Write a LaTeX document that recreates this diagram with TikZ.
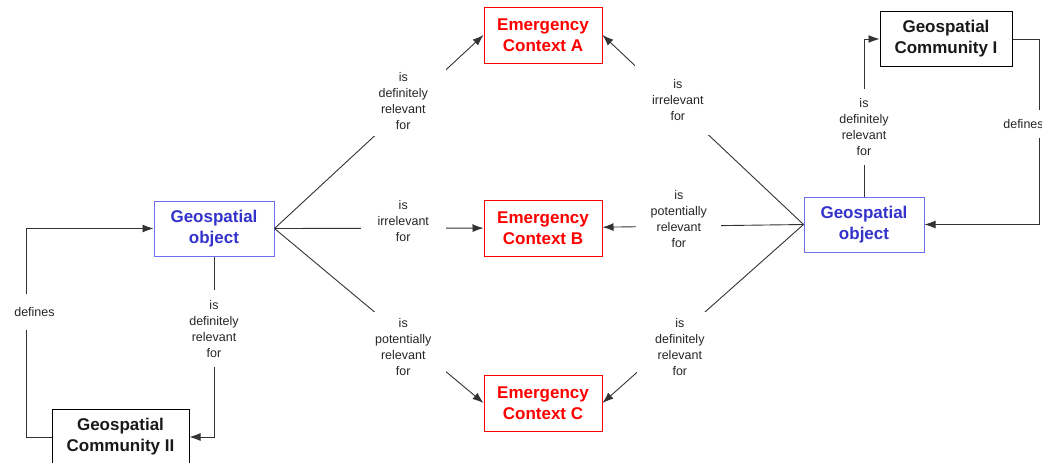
\documentclass[tikz,border=0pt]{standalone}
\usepackage{fontspec}
\setmainfont{Liberation Sans}
\usetikzlibrary{arrows.meta}
\definecolor{ctxred}{RGB}{255,0,0}
\definecolor{objblue}{RGB}{51,51,204}
\definecolor{objframe}{RGB}{110,110,240}
\tikzstyle{box}=[align=center,inner sep=0pt,line width=1pt,font=\fontsize{17}{21}\selectfont\bfseries]
\tikzstyle{context}=[box,draw=ctxred,text=ctxred,minimum width=118pt,minimum height=56pt]
\tikzstyle{object}=[box,draw=objframe,text=objblue,minimum width=120pt,minimum height=55pt]
\tikzstyle{community}=[box,draw=black,text=black!90,minimum height=55pt]
\tikzstyle{edge} = [draw,line width=0.9pt,black!80,-{Latex[length=11pt,width=8pt]}]
\tikzstyle{relation} = [font=\fontsize{12.5}{16}\selectfont,text=black!85,fill=white,align=center,inner sep=0pt,minimum width=85pt,minimum height=70pt]

\begin{document}
\begin{tikzpicture}[x=1pt,y=-1pt]
				\useasboundingbox (0,0) rectangle (1042,463);
				% First we draw the boxes
				\foreach \pos/\name/\letter in {{(543,35)/ctxA/A}, {(543,228)/ctxB/B}, {(543,403)/ctxC/C}}
				\node[context] (\name) at \pos {Emergency\\Context \letter};

				\node[object] (lobj) at (214,228.5) {Geospatial\\object};
				\node[object] (robj) at (864,224.5) {Geospatial\\object};
				\node[community, minimum width=132pt] (comm1) at (946,39) {Geospatial\\Community I};
				\node[community, minimum width=137pt] (comm2) at (120.5,437) {Geospatial\\Community II};

				% Connect objects with contexts and write relations
				\foreach \source/ \dest /\dx/\dy/\relation in {lobj/ctxA.west/-5/4/{is\\definitely\\relevant\\for}, lobj/ctxB/-5/7/{is\\irrelevant\\for}, lobj/ctxC.west/-5/-7/{is\\potentially\\relevant\\for}}
				\path[edge] (\source.east) -- node[relation, pos=0.64, xshift=\dx pt, yshift=\dy pt] {\relation} (\dest);

				\foreach \source/ \dest /\dx/\dy/\relation in {robj/ctxA.east/3/3/{is\\irrelevant\\for}, robj/ctxB/4/7/{is\\potentially\\relevant\\for}, robj/ctxC.east/5/-8/{is\\definitely\\relevant\\for}}
				\path[edge] (\source.west) -- node[relation, pos=0.64, xshift=\dx pt, yshift=\dy pt] {\relation} (\dest);

				% Objects and communities
				\path[edge] (lobj.south) |- node[relation, pos=0.2, minimum height=77pt] {is\\definitely\\relevant\\for} (comm2.east);
				\path[edge] (robj.north) |- node[relation, pos=0.22, minimum height=76pt] {is\\definitely\\relevant\\for} (comm1.west);
				\path[edge] (comm2.west) -- ++(-25,0) |- node[relation, pos=0.3, xshift=8pt, minimum width=0pt, minimum height=36pt] {defines} (lobj.west);
				\path[edge] (comm1.east) -- ++(27,0) |- node[relation, pos=0.23, xshift=-16pt, minimum width=0pt, minimum height=28pt] {defines} (robj.east);

			\end{tikzpicture}
\end{document}
